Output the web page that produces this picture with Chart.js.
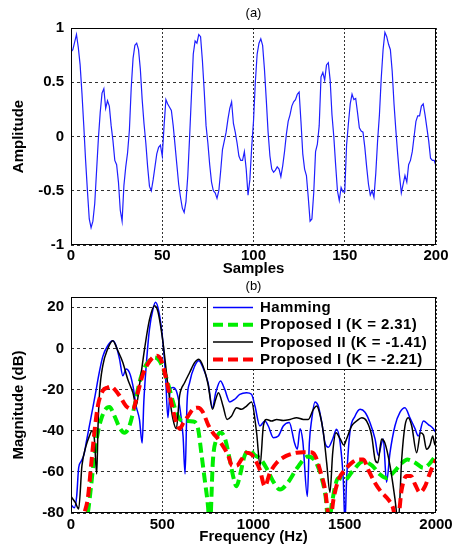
<!DOCTYPE html>
<html><head><meta charset="utf-8">
<script src="https://cdn.jsdelivr.net/npm/chart.js@4/dist/chart.umd.min.js"></script>
<style>
html,body{margin:0;padding:0;background:#fff;}
body{width:456px;height:548px;position:relative;overflow:hidden;}
canvas{position:absolute;left:0;}
#ca{top:0;} #cb{top:276px;}
</style></head><body>
<canvas id="ca" width="456" height="280"></canvas>
<canvas id="cb" width="456" height="272"></canvas>
<script>
// ---------- (a) time-domain signal ----------
const amplitude = [
 0.78, 0.80, 0.87, 0.94, 0.82, 0.66, 0.40, 0.10, -0.22, -0.50,
 -0.76, -0.84, -0.78, -0.62, -0.32, -0.02, 0.22, 0.40, 0.44, 0.26,
 0.33, 0.28, 0.10, -0.04, -0.22, -0.26, -0.42, -0.68, -0.78, -0.45,
 -0.28, -0.15, 0.06, 0.45, 0.72, 0.84, 0.86, 0.80, 0.62, 0.34,
 0.12, -0.06, -0.28, -0.46, -0.50, -0.40, -0.28, -0.16, -0.10, -0.08,
 -0.18, 0.10, 0.34, 0.30, 0.27, 0.24, 0.10, -0.08, -0.26, -0.44,
 -0.56, -0.66, -0.70, -0.60, -0.36, 0.00, 0.38, 0.76, 0.88, 0.86,
 0.94, 0.92, 0.70, 0.42, 0.10, -0.06, -0.26, -0.42, -0.50, -0.52,
 -0.57, -0.50, -0.32, -0.12, -0.04, 0.04, 0.16, 0.26, 0.32, 0.12,
 0.04, -0.06, -0.18, -0.22, -0.22, -0.14, -0.30, -0.54, -0.40, -0.10,
 0.14, 0.50, 0.76, 0.86, 0.90, 0.84, 0.62, 0.34, 0.04, -0.18,
 -0.30, -0.33, -0.31, -0.28, -0.30, -0.37, -0.27, -0.14, 0.02, 0.14,
 0.20, 0.28, 0.32, 0.34, 0.39, 0.41, 0.14, -0.16, -0.30, -0.36,
 -0.56, -0.78, -0.76, -0.52, -0.14, -0.07, 0.10, 0.55, 0.59, 0.52,
 0.66, 0.68, 0.52, 0.20, 0.00, -0.26, -0.50, -0.59, -0.47, -0.51,
 -0.51, -0.08, 0.12, 0.30, 0.39, 0.34, 0.35, 0.22, 0.08, 0.05,
 0.04, -0.10, -0.28, -0.44, -0.54, -0.50, -0.56, -0.34, -0.04, 0.20,
 0.54, 0.80, 0.96, 0.92, 0.85, 0.80, 0.60, 0.30, 0.06, -0.16,
 -0.36, -0.52, -0.44, -0.36, -0.42, -0.26, -0.22, -0.14, 0.00, 0.14,
 0.19, 0.19, 0.28, 0.30, 0.20, 0.08, -0.04, -0.20, -0.22, -0.22,
 -0.27
];
const xTicksA = [0, 50, 100, 150, 200];
const yTicksA = [-1, -0.5, 0, 0.5, 1];

// ---------- (b) magnitude spectra ----------
const xTicksB = [0, 500, 1000, 1500, 2000];
const yTicksB = [-80, -60, -40, -20, 0, 20];
const seriesNames = ['Hamming', 'Proposed I (K = 2.31)', 'Proposed II (K = -1.41)', 'Proposed I (K = -2.21)'];

const hammingFreq = [0, 18, 31, 42, 55, 70, 85, 100, 115, 134, 152, 174, 201, 229, 247, 266, 284, 302, 320, 339, 357, 375, 390, 399, 412, 430, 449, 463, 482, 504, 518, 531, 544, 559, 577, 595, 614, 625, 636, 650, 678, 700, 723, 751, 775, 793, 819, 842, 870, 897, 925, 962, 989, 1008, 1035, 1062, 1081, 1109, 1136, 1163, 1196, 1225, 1240, 1255, 1270, 1295, 1306, 1319, 1337, 1355, 1374, 1392, 1410, 1434, 1455, 1475, 1492, 1501, 1510, 1528, 1556, 1584, 1611, 1638, 1666, 1684, 1702, 1711, 1729, 1748, 1775, 1803, 1830, 1857, 1885, 1903, 1931, 1958, 1985, 2000];
const hammingDb = [-76, -77.5, -72, -58, -55, -52, -45, -38, -31, -22, -13, -4, 1.3, 3.7, 1.3, -5.2, -13.3, -10, -11.7, -18, -28, -34.5, -46, -26, -8.5, 9.4, 19, 22.4, 17.6, 2.9, -13.3, -33.7, -19.8, -19, -20.6, -28, -42.6, -61, -26, -16.6, -8.5, -6, -9.3, -16.6, -28.8, -21.5, -15.8, -19.8, -26, -24.7, -22.3, -21.5, -22.3, -28, -37.7, -35.3, -37.7, -43.4, -42.6, -37.7, -36, -46, -49, -39, -45, -72, -46, -34.5, -26, -28, -36, -46, -48, -44, -39.3, -46, -64, -85, -64, -41, -33, -29.6, -31, -36, -44, -52, -46, -44, -65, -50.7, -37.7, -31, -28.8, -33.7, -39, -42.6, -35.3, -37, -39, -41];

const propIFreq = [0, 60, 92, 110, 128, 147, 165, 189, 211, 238, 266, 293, 320, 348, 375, 403, 430, 458, 485, 513, 540, 559, 586, 614, 641, 668, 696, 714, 733, 751, 760, 778, 797, 819, 842, 870, 888, 907, 925, 952, 980, 1008, 1036, 1070, 1110, 1145, 1190, 1240, 1300, 1340, 1370, 1395, 1412, 1430, 1465, 1500, 1540, 1600, 1650, 1690, 1730, 1770, 1810, 1843, 1885, 1931, 1965, 2000];
const propIDb = [-100, -90, -80, -67, -52, -41, -34.5, -29.6, -28.5, -32.8, -38.5, -41, -37.7, -28, -16.6, -9.3, -6, -4.4, -6, -11.7, -19.8, -26, -33, -35.3, -35.3, -35.5, -39, -50.7, -64, -77, -88, -54, -44, -41, -43.4, -54, -62, -67, -62, -52, -49.5, -52, -53.5, -58, -65, -68.6, -65, -58, -52.5, -55, -62, -72, -86, -75, -63, -64, -60, -55, -57, -61, -63, -60, -56, -54, -55.5, -58, -56, -52];

const propIIFreq = [0, 24, 42, 60, 82, 101, 115, 128, 141, 148, 156, 174, 201, 229, 256, 284, 311, 339, 357, 375, 403, 430, 458, 476, 504, 531, 559, 577, 595, 623, 650, 678, 700, 723, 751, 775, 793, 808, 833, 855, 879, 907, 934, 962, 989, 1017, 1036, 1054, 1072, 1099, 1127, 1163, 1200, 1236, 1273, 1300, 1328, 1346, 1364, 1383, 1401, 1419, 1434, 1452, 1475, 1495, 1510, 1538, 1565, 1593, 1620, 1648, 1666, 1681, 1702, 1720, 1748, 1775, 1793, 1812, 1830, 1848, 1867, 1894, 1916, 1931, 1948, 1967, 1982, 1995, 2000];
const propIIDb = [-72, -75, -78, -57, -47.5, -42.6, -40, -44, -61, -38, -22, -8.5, -0.3, 3.7, -1, -6.8, -15, -21.5, -28, -18, -0.3, 14, 20.8, 18, 3, -18, -34.5, -39, -23, -16.6, -11.7, -6.8, -5.2, -8.5, -17.4, -29.6, -24.7, -21.5, -28, -34.5, -33, -28.8, -29.6, -28, -26, -41, -57, -37.7, -34.5, -35.3, -34.5, -35, -34.5, -33.7, -34.5, -34.5, -29.6, -28, -32, -41, -55.6, -70, -50.7, -41, -44, -47, -44, -37.7, -35.3, -33.7, -35.3, -42.6, -54, -55.6, -44, -46, -57, -73, -85, -54, -37.7, -33.7, -37.7, -50.7, -41, -42, -49, -47, -42.6, -47, -44];

const propIbFreq = [0, 73, 92, 110, 128, 147, 174, 201, 220, 238, 266, 302, 339, 366, 394, 421, 449, 471, 495, 522, 549, 577, 595, 617, 641, 668, 696, 723, 751, 778, 806, 833, 861, 883, 907, 934, 962, 989, 1008, 1035, 1062, 1090, 1127, 1163, 1200, 1236, 1273, 1309, 1337, 1364, 1392, 1419, 1438, 1465, 1501, 1538, 1575, 1602, 1629, 1666, 1702, 1739, 1766, 1785, 1812, 1839, 1863, 1885, 1912, 1940, 1967, 2000];
const propIbDb = [-100, -80, -73, -57, -41, -28, -20.6, -19, -18.5, -19.8, -23, -28, -29.6, -21.5, -12.5, -7.6, -4.4, -3.6, -6, -15, -26, -36, -39, -36, -33, -29.6, -28.8, -31, -37, -41, -44, -47.5, -52, -57, -57, -54, -50.7, -51.5, -54, -59, -67, -60.5, -55.6, -53, -51.5, -50.7, -50.5, -50.5, -52, -59, -68.6, -85, -73.5, -64, -59, -55.6, -54, -54, -59, -65.4, -70, -73.5, -78, -88, -68.6, -62, -62, -66, -70, -67, -60.5, -54];

// ---------- helpers ----------
const FONT = "'Liberation Sans', Arial, Helvetica, sans-serif";
const pts = (xs, ys) => xs.map((x, i) => ({x: x, y: ys[i]}));

const boxPlugin = {
  id: 'axbox',
  afterDatasetsDraw(chart) {
    const a = chart.chartArea, ctx = chart.ctx;
    ctx.save();
    ctx.strokeStyle = '#000'; ctx.lineWidth = 1; ctx.setLineDash([]);
    ctx.strokeRect(a.left + 0.5, a.top + 0.5, a.right - a.left - 1, a.bottom - a.top - 1);
    ctx.restore();
  }
};

const legendPlugin = {
  id: 'boxLegend',
  afterDatasetsDraw(chart, args, opts) {
    if (!opts || !opts.show) return;
    const a = chart.chartArea, ctx = chart.ctx;
    const w = 229, h = 72;
    const left = a.right - w, top = a.top;
    ctx.save();
    ctx.fillStyle = '#fff';
    ctx.fillRect(left, top, w, h);
    ctx.strokeStyle = '#000'; ctx.lineWidth = 1; ctx.setLineDash([]);
    ctx.strokeRect(left + 0.5, top + 0.5, w - 1, h);
    ctx.font = 'bold 15px ' + FONT;
    try { ctx.letterSpacing = '0.4px'; } catch (e) {}
    ctx.textBaseline = 'middle'; ctx.textAlign = 'left';
    chart.data.datasets.forEach((ds, i) => {
      const y = top + 10.5 + i * 17.3;
      ctx.beginPath();
      ctx.strokeStyle = ds.borderColor;
      ctx.lineWidth = ds.borderWidth;
      ctx.setLineDash(ds.borderDash || []);
      ctx.moveTo(left + 6, y); ctx.lineTo(left + 46, y);
      ctx.stroke();
      ctx.setLineDash([]);
      ctx.fillStyle = '#000';
      ctx.fillText(ds.label, left + 53, y + 0.5);
    });
    ctx.restore();
  }
};

function axisCommon(tickVals, dash, titleText, isX, min, max, size, tickPad, titlePad) {
  return {
    type: 'linear', min: min, max: max,
    afterBuildTicks: (s) => { s.ticks = tickVals.map(v => ({value: v})); },
    afterFit: (s) => { if (isX) s.height = size; else s.width = size; },
    grid: { color: '#333', lineWidth: 1, drawTicks: false },
    border: { display: false, dash: dash },
    ticks: { color: '#000', padding: tickPad, font: {family: FONT, size: 15, weight: 'bold'},
             maxRotation: 0, autoSkip: false, callback: (v) => String(v) },
    title: { display: true, text: titleText, color: '#000', padding: titlePad,
             font: {family: FONT, size: 15, weight: 'bold'} }
  };
}

// ---------- chart (a) ----------
const xA = axisCommon(xTicksA, [2, 2], 'Samples', true, 0, 200, 35, 2, {top: 0, bottom: 2});
const yA = axisCommon(yTicksA, [3, 3], 'Amplitude', false, -1, 1, 69, 7, {top: 8, bottom: 0});

new Chart(document.getElementById('ca'), {
  type: 'line',
  data: {
    datasets: [{
      label: 'signal',
      data: amplitude.map((v, i) => ({x: i, y: v})),
      borderColor: '#1f1fff', borderWidth: 1.2, pointRadius: 0, tension: 0, fill: false, clip: 0
    }]
  },
  options: {
    responsive: false, animation: false, devicePixelRatio: 1,
    layout: { padding: {left: 2, right: 20, top: 0, bottom: 0} },
    plugins: {
      legend: {display: false}, tooltip: {enabled: false},
      title: { display: true, text: '(a)', fullSize: false, color: '#000',
               font: {family: FONT, size: 13, weight: 'normal'}, padding: {top: 6, bottom: 6.4} },
      boxLegend: {show: false}
    },
    scales: { x: xA, y: yA }
  },
  plugins: [boxPlugin, legendPlugin]
});

// ---------- chart (b) ----------
const xB = axisCommon(xTicksB, [2, 2], 'Frequency (Hz)', true, 0, 2000, 35, 3, {top: 0, bottom: 2});
const yB = axisCommon(yTicksB, [3, 3], 'Magnitude (dB)', false, -80, 25, 69, 7, {top: 8, bottom: 0});

new Chart(document.getElementById('cb'), {
  type: 'line',
  data: {
    datasets: [
      { label: seriesNames[0], data: pts(hammingFreq, hammingDb), borderColor: '#0000ff', borderWidth: 1.5,
        pointRadius: 0, cubicInterpolationMode: 'monotone', fill: false, clip: 0, order: 3 },
      { label: seriesNames[1], data: pts(propIFreq, propIDb), borderColor: '#00ee00', borderWidth: 4, borderDash: [10, 5],
        pointRadius: 0, cubicInterpolationMode: 'monotone', fill: false, clip: 0, order: 2 },
      { label: seriesNames[2], data: pts(propIIFreq, propIIDb), borderColor: '#000000', borderWidth: 1.5,
        pointRadius: 0, cubicInterpolationMode: 'monotone', fill: false, clip: 0, order: 1 },
      { label: seriesNames[3], data: pts(propIbFreq, propIbDb), borderColor: '#ff0000', borderWidth: 4, borderDash: [10, 5],
        pointRadius: 0, cubicInterpolationMode: 'monotone', fill: false, clip: 0, order: 0 }
    ]
  },
  options: {
    responsive: false, animation: false, devicePixelRatio: 1,
    layout: { padding: {left: 2, right: 20, top: 0, bottom: 0} },
    plugins: {
      legend: {display: false}, tooltip: {enabled: false},
      title: { display: true, text: '(b)', fullSize: false, color: '#000',
               font: {family: FONT, size: 13, weight: 'normal'}, padding: {top: 2.2, bottom: 3.2} },
      boxLegend: {show: true}
    },
    scales: { x: xB, y: yB }
  },
  plugins: [boxPlugin, legendPlugin]
});
</script>
</body></html>
